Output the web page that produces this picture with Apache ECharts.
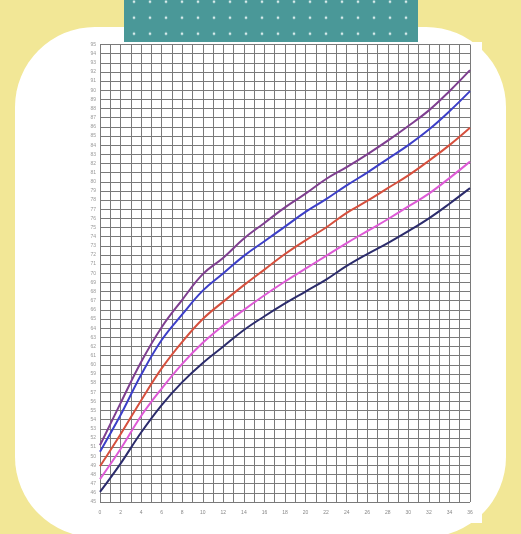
<!DOCTYPE html>
<html>
<head>
<meta charset="utf-8">
<script src="https://cdn.jsdelivr.net/npm/echarts@6/dist/echarts.min.js"></script>
<style>
  html, body { margin: 0; padding: 0; width: 521px; height: 534px; overflow: hidden; background: #f2e796; }
  #card { position: absolute; left: 15px; top: 27px; width: 491px; height: 510px; background: #ffffff; border-radius: 80px; }
  #banner { position: absolute; left: 124px; top: 0; width: 294px; height: 42px; background-color: #4a9898;
    background-image: radial-gradient(circle, #d6eaea 1.1px, rgba(0,0,0,0) 1.7px);
    background-size: 16px 16px; background-position: 2px -6.3px; }
  #chart { position: absolute; left: 76px; top: 42px; width: 406px; height: 481px; background: #ffffff; }
</style>
</head>
<body>
<div id="card"></div>
<div id="banner"></div>
<div id="chart"></div>
<script>
const months = [0, 2, 4, 6, 8, 10, 12, 14, 16, 18, 20, 22, 24, 26, 28, 30, 32, 34, 36];
const p97 = [51.2, 55.8, 60.3, 64.1, 67.1, 69.9, 71.7, 73.8, 75.5, 77.2, 78.7, 80.3, 81.6, 83.0, 84.5, 86.1, 87.8, 89.9, 92.2];
const p85 = [50.5, 54.5, 58.9, 62.7, 65.5, 68.1, 70.0, 71.9, 73.5, 75.1, 76.7, 78.1, 79.6, 81.0, 82.5, 84.0, 85.7, 87.7, 89.9];
const p50 = [48.9, 52.4, 56.1, 59.6, 62.5, 65.0, 66.9, 68.7, 70.4, 72.1, 73.6, 75.0, 76.6, 77.9, 79.3, 80.7, 82.3, 84.0, 85.9];
const p15 = [47.5, 50.8, 54.4, 57.4, 60.1, 62.4, 64.3, 66.0, 67.6, 69.1, 70.5, 71.9, 73.3, 74.6, 75.9, 77.3, 78.7, 80.4, 82.2];
const p3  = [46.1, 49.2, 52.6, 55.6, 58.1, 60.2, 62.0, 63.8, 65.3, 66.7, 68.0, 69.3, 70.8, 72.1, 73.3, 74.6, 76.0, 77.6, 79.3];
const yMin = 45, yMax = 95;
const xMin = 0, xMax = 36;

const seriesDefs = [
  { name: 'P97', data: p97, color: '#7f3f90' },
  { name: 'P85', data: p85, color: '#3d3fc8' },
  { name: 'P50', data: p50, color: '#d6503e' },
  { name: 'P15', data: p15, color: '#de5ad6' },
  { name: 'P3',  data: p3,  color: '#2c2c6c' }
];

const chart = echarts.init(document.getElementById('chart'), null, { renderer: 'canvas' });
const gridLine = { show: true, lineStyle: { color: '#7a7a7a', width: 1 } };
chart.setOption({
  animation: false,
  backgroundColor: '#ffffff',
  grid: { left: 24, right: 12, top: 2, bottom: 21 },
  xAxis: {
    type: 'value', min: xMin, max: xMax, interval: 1,
    axisLine: { show: false }, axisTick: { show: false },
    splitLine: gridLine,
    axisLabel: { fontSize: 5, color: '#888', margin: 8,
      formatter: v => (v % 2 === 0 ? String(v) : '') }
  },
  yAxis: {
    type: 'value', min: yMin, max: yMax, interval: 1,
    axisLine: { show: false }, axisTick: { show: false },
    splitLine: gridLine,
    axisLabel: { fontSize: 5, color: '#999', margin: 4 }
  },
  series: seriesDefs.map(s => ({
    name: s.name, type: 'line', smooth: 0.4, symbol: 'none',
    data: months.map((m, i) => [m, s.data[i]]),
    lineStyle: { color: s.color, width: 2 }
  }))
});
</script>
</body>
</html>
